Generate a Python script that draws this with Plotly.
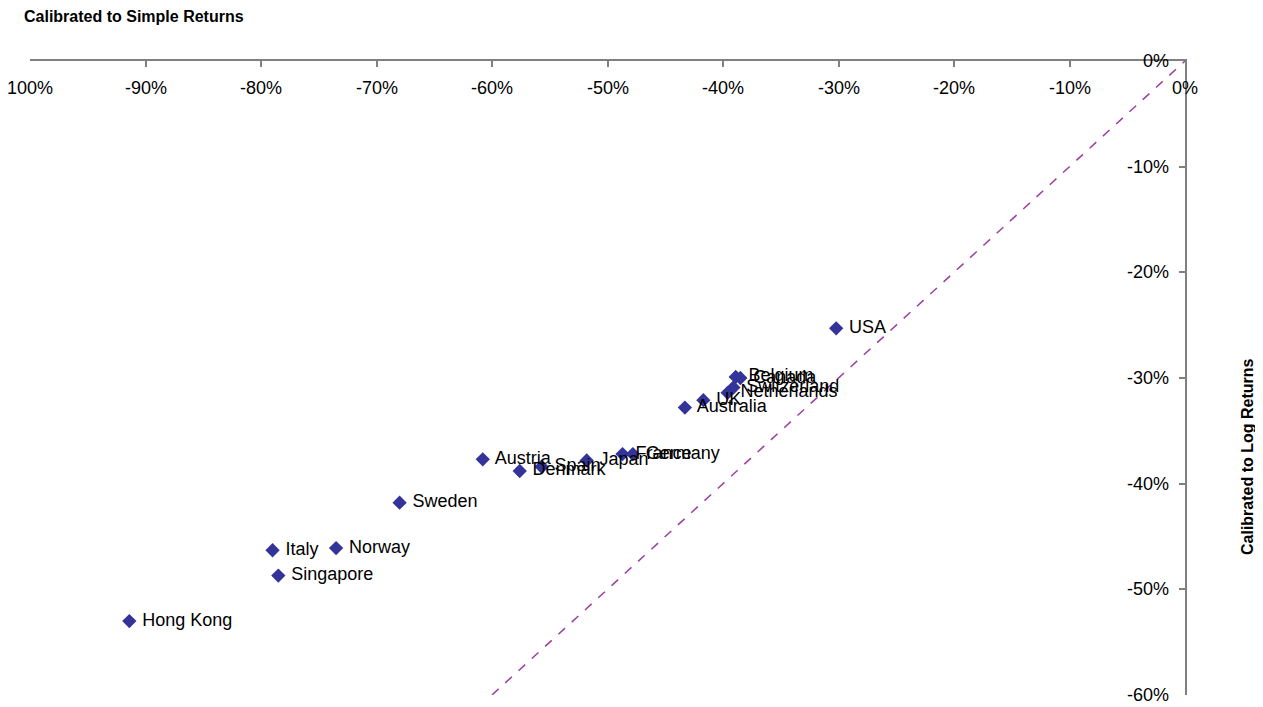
import plotly.graph_objects as go

countries = ["USA", "Belgium", "Canada", "Switzerland", "Netherlands", "UK", "Australia",
             "Austria", "Denmark", "Spain", "Japan", "France", "Germany", "Sweden",
             "Italy", "Norway", "Singapore", "Hong Kong"]
simple_returns = [-30.2, -38.9, -38.5, -39.1, -39.6, -41.7, -43.3,
                  -60.8, -57.6, -55.7, -51.8, -48.7, -47.8, -68.0,
                  -79.0, -73.5, -78.5, -91.4]
log_returns = [-25.3, -29.9, -30.0, -30.9, -31.4, -32.1, -32.8,
               -37.7, -38.8, -38.4, -37.8, -37.2, -37.2, -41.8,
               -46.3, -46.1, -48.7, -53.0]

x_ticks = [-100, -90, -80, -70, -60, -50, -40, -30, -20, -10, 0]
x_ticktext = ["100%", "-90%", "-80%", "-70%", "-60%", "-50%", "-40%", "-30%", "-20%", "-10%", "0%"]
y_ticks = [0, -10, -20, -30, -40, -50, -60]
y_ticktext = ["0%", "-10%", "-20%", "-30%", "-40%", "-50%", "-60%"]
diag = [-60, 0]

FONT = "Liberation Sans, Arial, sans-serif"
PW, PH = 1155, 634

fig = go.Figure()
fig.add_trace(go.Scatter(
    x=diag, y=diag, mode="lines",
    line=dict(color="#9B3FA0", width=1.5, dash="dash"),
    hoverinfo="skip", showlegend=False))
fig.add_trace(go.Scatter(
    x=simple_returns, y=log_returns, mode="markers+text",
    text=countries, texttemplate=" %{text}", textposition="middle right",
    textfont=dict(family=FONT, size=18, color="#000000"),
    marker=dict(symbol="diamond", size=11, color="#333399"),
    cliponaxis=False, showlegend=False))

annotations = []
for v, t in zip(x_ticks, x_ticktext):
    annotations.append(dict(text=t, xref="x", yref="paper", x=v, y=1, yshift=-27,
                            xanchor="center", yanchor="middle", showarrow=False,
                            font=dict(family=FONT, size=18)))
for v, t in zip(y_ticks, y_ticktext):
    annotations.append(dict(text=t, xref="paper", yref="y", x=1, y=v, xshift=-14,
                            xanchor="right", yanchor="middle", showarrow=False,
                            font=dict(family=FONT, size=18)))
annotations.append(dict(text="<b>Calibrated to Simple Returns</b>", xref="paper", yref="paper",
                        x=-8 / PW, y=1 + 44 / PH, xanchor="left", yanchor="middle",
                        showarrow=False, font=dict(family=FONT, size=16)))
annotations.append(dict(text="<b>Calibrated to Log Returns</b>", xref="paper", yref="paper",
                        x=1 + 62 / PW, y=1 - 396 / PH, xanchor="center", yanchor="middle",
                        textangle=-90, showarrow=False, font=dict(family=FONT, size=16)))

fig.update_layout(
    width=1255, height=699,
    margin=dict(l=22, r=78, t=53, b=12),
    plot_bgcolor="white", paper_bgcolor="white",
    font=dict(family=FONT, size=18, color="#000000"),
    xaxis=dict(range=[-100, 0], side="top", tickvals=x_ticks,
               ticks="inside", ticklen=6, tickcolor="#808080", tickwidth=1.5,
               showticklabels=False,
               showline=True, linecolor="#808080", linewidth=1.5,
               showgrid=False, zeroline=False, fixedrange=True),
    yaxis=dict(range=[-60, 0], side="right", tickvals=y_ticks,
               ticks="inside", ticklen=6, tickcolor="#808080", tickwidth=1.5,
               showticklabels=False,
               showline=True, linecolor="#808080", linewidth=1.5,
               showgrid=False, zeroline=False, fixedrange=True),
    annotations=annotations,
)

fig.write_html("out.html")
